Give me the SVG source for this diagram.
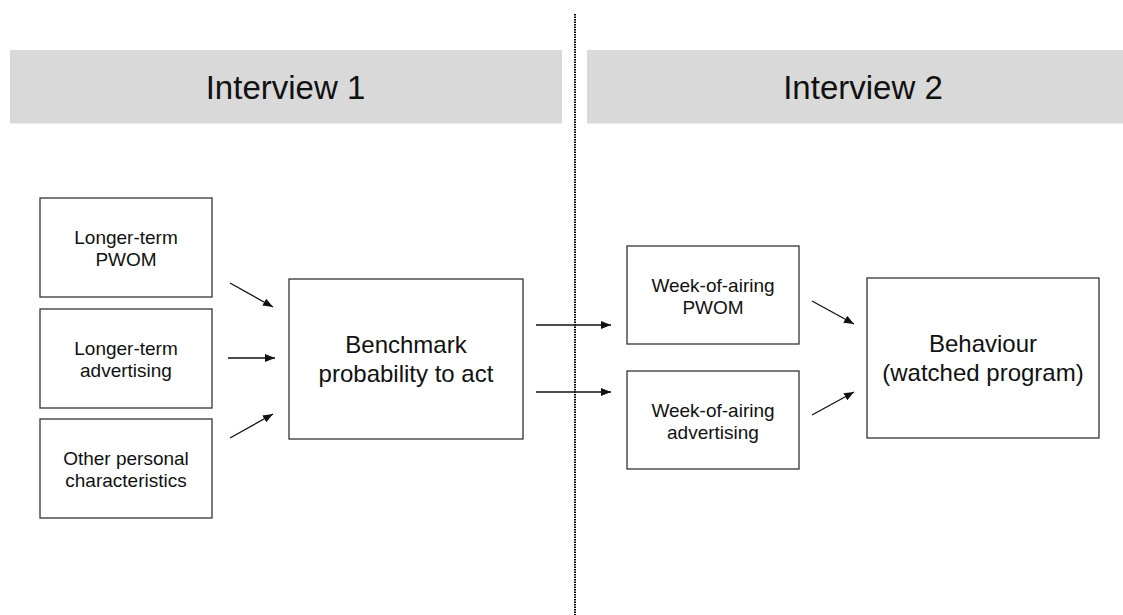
<svg xmlns="http://www.w3.org/2000/svg" width="1123" height="615" viewBox="0 0 1123 615">
<style>
.hdr{fill:#d9d9d9}
.box{fill:#fff;stroke:#333;stroke-width:1.3}
.t{font-family:"Liberation Sans",Arial,sans-serif;fill:#111;text-anchor:middle}
.s{font-size:19px}
.m{font-size:24px}
.h{font-size:33px}
.c{stroke:#111;stroke-width:1.3;fill:none;marker-end:url(#ah)}
</style>
<defs>
<marker id="ah" viewBox="0 0 10 8" refX="10" refY="4" markerWidth="10" markerHeight="8" markerUnits="userSpaceOnUse" orient="auto">
<path d="M0,0 L10,4 L0,8 z" fill="#111"/>
</marker>
</defs>
<rect width="1123" height="615" fill="#fff"/>
<g id="header1"><rect class="hdr" x="10" y="50" width="552" height="73.5"/><text class="t h" x="285.5" y="98.5">Interview 1</text></g>
<g id="header2"><rect class="hdr" x="587" y="50" width="552" height="73.5"/><text class="t h" x="863" y="98.5">Interview 2</text></g>
<g id="divider"><line x1="575" y1="14" x2="575" y2="615" stroke="#000" stroke-width="2" stroke-dasharray="1.5,1"/></g>
<g id="n1"><rect class="box" x="40" y="198" width="172" height="99"/><text class="t s" x="126" y="244">Longer-term</text><text class="t s" x="126" y="266">PWOM</text></g>
<g id="n2"><rect class="box" x="40" y="309" width="172" height="99"/><text class="t s" x="126" y="355">Longer-term</text><text class="t s" x="126" y="377">advertising</text></g>
<g id="n3"><rect class="box" x="40" y="419" width="172" height="99"/><text class="t s" x="126" y="465">Other personal</text><text class="t s" x="126" y="487">characteristics</text></g>
<g id="n4"><rect class="box" x="289" y="279" width="234" height="160"/><text class="t m" x="406" y="353">Benchmark</text><text class="t m" x="406" y="382">probability to act</text></g>
<g id="n5"><rect class="box" x="627" y="246" width="172" height="98"/><text class="t s" x="713" y="291.5">Week-of-airing</text><text class="t s" x="713" y="313.5">PWOM</text></g>
<g id="n6"><rect class="box" x="627" y="371" width="172" height="98"/><text class="t s" x="713" y="416.5">Week-of-airing</text><text class="t s" x="713" y="438.5">advertising</text></g>
<g id="n7"><rect class="box" x="867" y="278" width="232" height="160"/><text class="t m" x="983" y="352">Behaviour</text><text class="t m" x="983" y="381">(watched program)</text></g>
<g id="connectors">
<line class="c" x1="230" y1="283" x2="273" y2="307"/>
<line class="c" x1="228" y1="358" x2="275" y2="358"/>
<line class="c" x1="230" y1="438" x2="273" y2="414"/>
<line class="c" x1="536" y1="325" x2="611" y2="325"/>
<line class="c" x1="536" y1="392" x2="611" y2="392"/>
<line class="c" x1="812" y1="301" x2="854" y2="324"/>
<line class="c" x1="812" y1="415" x2="854" y2="392"/>
</g>
</svg>
